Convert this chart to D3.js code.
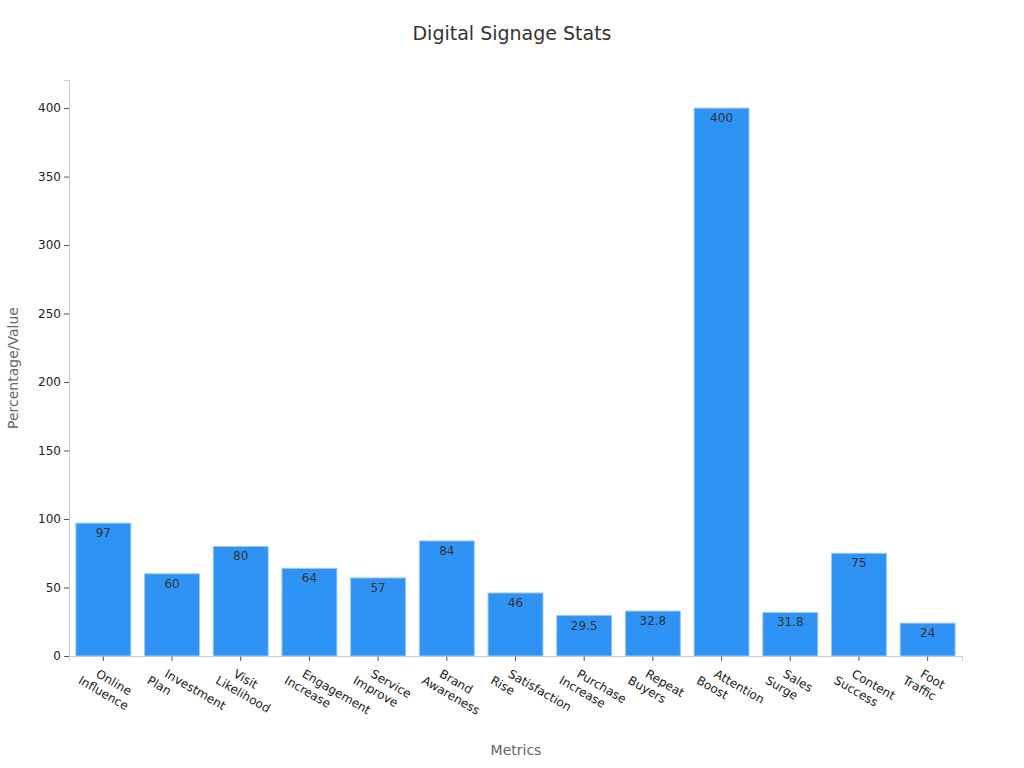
<!DOCTYPE html>
<html>
<head>
<meta charset="utf-8">
<script src="https://cdn.jsdelivr.net/npm/d3@7"></script>
<style>
  body { margin: 0; background: #fff; font-family: "DejaVu Sans", sans-serif; }
</style>
</head>
<body>
<div id="chart"></div>
<script>
// Digital signage stats

var categories = ["Online Influence", "Investment Plan", "Visit Likelihood", "Engagement Increase",
  "Service Improve", "Brand Awareness", "Satisfaction Rise", "Purchase Increase", "Repeat Buyers",
  "Attention Boost", "Sales Surge", "Content Success", "Foot Traffic"];
var values = [97, 60, 80, 64, 57, 84, 46, 29.5, 32.8, 400, 31.8, 75, 24];
var yTicks = [0, 50, 100, 150, 200, 250, 300, 350, 400];

var svgWidth = 1024, svgHeight = 768;
var margin = { top: 80, right: 62, bottom: 112, left: 69 };
var width = svgWidth - margin.left - margin.right;
var height = svgHeight - margin.top - margin.bottom;

var svg = d3.select("#chart").append("svg")
  .attr("width", svgWidth)
  .attr("height", svgHeight);

var g = svg.append("g")
  .attr("transform", `translate(${margin.left},${margin.top})`);

var x = d3.scaleBand().domain(categories).range([0, width]).paddingInner(0.2).paddingOuter(0.1);
var y = d3.scaleLinear().domain([0, 420.5]).range([height, 0]);

// axes
var yAxis = g.append("g").call(d3.axisLeft(y).tickValues(yTicks).tickSize(5));
var xAxis = g.append("g").attr("transform", `translate(0,${height})`)
  .call(d3.axisBottom(x).tickSize(5).tickFormat(""));
[yAxis, xAxis].forEach(a => {
  a.select(".domain").attr("stroke", "#ccc");
  a.selectAll(".tick line").attr("stroke", "#555");
  a.selectAll("text").attr("fill", "#222").style("font-size", "12px").style("font-family", "DejaVu Sans");
});

// bars
g.selectAll("rect.bar").data(values).enter().append("rect")
  .attr("class", "bar")
  .attr("x", (d, i) => x(categories[i]))
  .attr("y", d => y(d))
  .attr("width", x.bandwidth())
  .attr("height", d => height - y(d))
  .attr("fill", "#2e93f5")
  .attr("stroke", "#9cc9f5")
  .attr("stroke-width", 1);

// value labels
g.selectAll("text.val").data(values).enter().append("text")
  .attr("class", "val")
  .attr("x", (d, i) => x(categories[i]) + x.bandwidth() / 2)
  .attr("y", d => y(d) + 14)
  .attr("text-anchor", "middle")
  .style("font-size", "12px")
  .attr("fill", "#333")
  .text(d => d);

// category labels, rotated
categories.forEach(c => {
  var words = c.split(" ");
  var cx = x(c) + x.bandwidth() / 2;
  var t = g.append("text")
    .attr("transform", `translate(${cx},${height + 14}) rotate(30)`)
    .style("font-size", "12px")
    .attr("fill", "#222");
  t.append("tspan").attr("x", -4).attr("dy", "0.8em").text(words[0]);
  t.append("tspan").attr("x", -16).attr("dy", "1.2em").text(words[1]);
});

// title and axis titles
svg.append("text").attr("x", 512).attr("y", 40).attr("text-anchor", "middle")
  .style("font-size", "19px").attr("fill", "#333").text("Digital Signage Stats");
svg.append("text").attr("x", 516).attr("y", 755).attr("text-anchor", "middle")
  .style("font-size", "14px").attr("fill", "#666").text("Metrics");
svg.append("text").attr("transform", `translate(18,${margin.top + height / 2}) rotate(-90)`)
  .attr("text-anchor", "middle").style("font-size", "14px").attr("fill", "#666").text("Percentage/Value");
</script>
</body>
</html>
